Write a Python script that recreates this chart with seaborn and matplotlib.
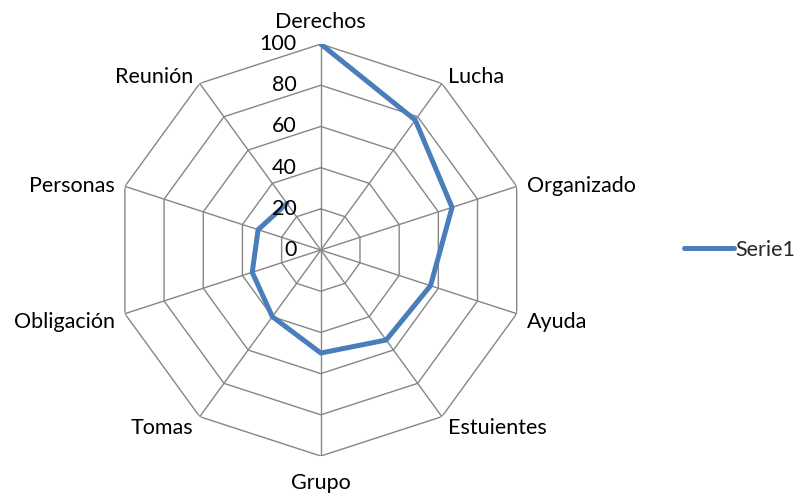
import numpy as np
import pandas as pd
import matplotlib
matplotlib.use("Agg")
import matplotlib.pyplot as plt
import seaborn as sns

# Daten
categories = ["Derechos", "Lucha", "Organizado", "Ayuda", "Estuientes",
              "Grupo", "Tomas", "Obligación", "Personas", "Reunión"]
serie1 = [100, 78, 67, 56, 54, 50, 40, 35, 32, 28]
ring_values = [20, 40, 60, 80, 100]
tick_labels = ["0", "20", "40", "60", "80", "100"]

# Farben
colors = {"line": "#4A7EBB", "grid": "#868686", "text": "#000000"}

sns.set_style("white")
plt.rcParams["font.family"] = ["Lato", "DejaVu Sans"]
fs = 15.5

n = len(categories)
theta = np.linspace(0, 2 * np.pi, n, endpoint=False)
theta_closed = np.append(theta, theta[0])
df = pd.DataFrame({"theta": theta_closed, "value": serie1 + serie1[:1]})

fig = plt.figure(figsize=(8, 4.96), dpi=100)
ax = fig.add_axes([0.1435, 0.0806, 0.515, 0.8306], projection="polar")
ax.set_theta_zero_location("N")
ax.set_theta_direction(-1)
ax.set_ylim(0, 100)
ax.set_axis_off()

# Netz
for r in ring_values:
    ax.plot(theta_closed, [r] * (n + 1), color=colors["grid"], lw=1.0, zorder=1)
for t in theta:
    ax.plot([t, t], [0, 100], color=colors["grid"], lw=1.0, zorder=1)

# Datenlinie
sns.lineplot(data=df, x="theta", y="value", ax=ax, sort=False,
             color=colors["line"], lw=3.6, label="Serie1", zorder=3)

# Achsenbeschriftung (radial)
for i, lab in enumerate(tick_labels):
    ax.annotate(lab, xy=(0, i * 20), xytext=(-24, 0), textcoords="offset pixels",
                ha="right", va="center", fontsize=fs, color=colors["text"])

# Kategorien
offsets = {
    0: (0, 12, "center", "bottom"),
    1: (6, 6, "left", "center"),
    2: (10, 0, "left", "center"),
    3: (10, -8, "left", "center"),
    4: (6, -11, "left", "center"),
    5: (0, -17, "center", "top"),
    6: (-6, -11, "right", "center"),
    7: (-10, -8, "right", "center"),
    8: (-10, 0, "right", "center"),
    9: (-6, 6, "right", "center"),
}
for i, cat in enumerate(categories):
    dx, dy, ha, va = offsets[i]
    ax.annotate(cat, xy=(theta[i], 100), xytext=(dx, dy), textcoords="offset pixels",
                ha=ha, va=va, fontsize=fs, color=colors["text"])

ax.legend(loc="center left", bbox_to_anchor=(684 / 800, 1 - 250 / 496),
          bbox_transform=fig.transFigure, frameon=False, fontsize=fs,
          handlelength=2.3, handletextpad=0.1, borderpad=0, borderaxespad=0)

fig.savefig("out.png", dpi=100)
